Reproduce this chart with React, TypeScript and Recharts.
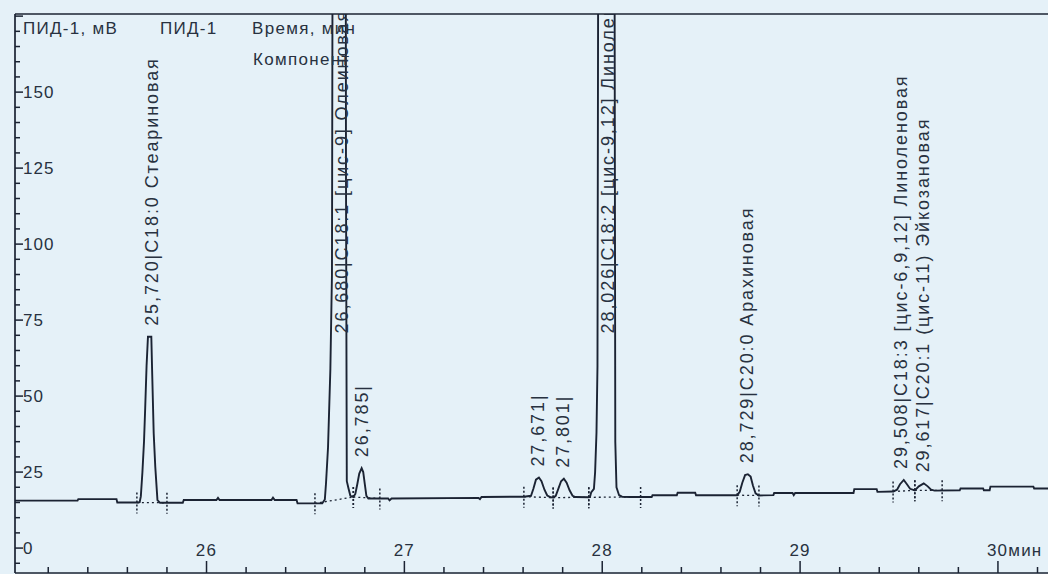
import React from 'react';
import { ComposedChart, Line, Scatter, XAxis, YAxis, ReferenceLine } from 'recharts';

// ---------- axes ----------
const X_DOMAIN: [number, number] = [25.032, 30.253];
const Y_DOMAIN: [number, number] = [-8.2, 175.7];
const X_TICKS = [25.2, 25.4, 25.6, 25.8, 26, 26.2, 26.4, 26.6, 26.8, 27, 27.2, 27.4, 27.6, 27.8, 28, 28.2, 28.4, 28.6, 28.8, 29, 29.2, 29.4, 29.6, 29.8, 30, 30.2];
const X_TICK_LABELS: Record<string, string> = { '26': '26', '27': '27', '28': '28', '29': '29', '30': '30мин' };
const Y_TICKS = [-5, 0, 5, 10, 15, 20, 25, 30, 35, 40, 45, 50, 55, 60, 65, 70, 75, 80, 85, 90, 95, 100, 105, 110, 115, 120, 125, 130, 135, 140, 145, 150, 155, 160, 165, 170, 175];
const Y_TICK_LABELS = [0, 25, 50, 75, 100, 125, 150];

// ---------- header ----------
const HEADER_SIGNAL = 'ПИД-1, мВ';
const HEADER_DETECTOR = 'ПИД-1';
const HEADER_TIME = 'Время, мин';
const HEADER_COMPONENT = 'Компонент';

// ---------- chromatogram trace: [time, mV] ----------
const TRACE_START: [number, number][] = [
  [25.032, 15.6], [25.348, 15.6], [25.352, 16.1], [25.545, 16.1], [25.549, 15.0], [25.655, 15.0],
];
const TRACE_STEARIC: [number, number][] = [
  [25.662, 15.1], [25.668, 17], [25.676, 25], [25.684, 35], [25.690, 46], [25.697, 60], [25.704, 69.5],
  [25.721, 69.5], [25.725, 58.5], [25.733, 37.8], [25.741, 26.7], [25.752, 15.8], [25.765, 14.9],
];
const TRACE_MID1: [number, number][] = [
  [25.880, 14.9], [25.885, 15.8], [26.050, 15.8], [26.058, 16.5], [26.066, 15.8],
  [26.328, 15.8], [26.336, 16.6], [26.345, 15.8], [26.455, 15.8], [26.460, 14.7],
];
const TRACE_OLEIC: [number, number][] = [
  [26.585, 14.7], [26.598, 16], [26.604, 21.4], [26.614, 33], [26.626, 59], [26.634, 90],
  [26.640, 300], [26.672, 700], [26.702, 300], [26.705, 120], [26.709, 22], [26.718, 19.5], [26.727, 17.2],
  [26.742, 16.8], [26.752, 17.8], [26.762, 21], [26.772, 24.5], [26.784, 26.3], [26.792, 25],
  [26.800, 21], [26.808, 17.2], [26.818, 16.3],
];
const TRACE_MID2: [number, number][] = [
  [26.918, 16.3], [26.925, 15.7], [26.935, 16.3], [27.375, 16.5], [27.382, 16.1], [27.390, 16.8], [27.604, 16.9],
];
const TRACE_SMALL: [number, number][] = [
  [27.640, 17.2], [27.652, 19.5], [27.665, 22.5], [27.680, 23.2], [27.693, 22], [27.708, 19.2], [27.722, 17.3],
  [27.740, 16.7], [27.752, 16.6], [27.765, 17.2], [27.778, 19.5], [27.792, 22], [27.806, 22.8], [27.820, 21.5],
  [27.835, 19], [27.850, 17.2], [27.865, 16.8], [27.932, 16.7],
];
const TRACE_LINOLEIC: [number, number][] = [
  [27.938, 16.8], [27.944, 18.3], [27.958, 19.5], [27.964, 25], [27.971, 38], [27.976, 60], [27.981, 250],
  [28.022, 700], [28.061, 250], [28.066, 35], [28.072, 20], [28.085, 17.4], [28.100, 16.9], [28.140, 16.8],
];
const TRACE_MID3: [number, number][] = [
  [28.250, 16.8], [28.254, 17.4], [28.377, 17.4], [28.381, 18.2], [28.470, 18.2], [28.474, 17.4], [28.682, 17.4],
];
const TRACE_ARACHIDIC: [number, number][] = [
  [28.695, 18.5], [28.708, 21.5], [28.722, 24], [28.736, 24.3], [28.750, 23.5], [28.762, 20.5], [28.775, 18], [28.792, 17.3],
];
const TRACE_MID4: [number, number][] = [
  [28.865, 17.4], [28.869, 18.1], [28.962, 18.1], [28.968, 17.4], [28.975, 18.1], [29.270, 18.1], [29.274, 19.4],
  [29.387, 19.4], [29.391, 18.5], [29.470, 18.6],
];
const TRACE_LATE: [number, number][] = [
  [29.490, 19.2], [29.505, 21], [29.524, 22.4], [29.540, 21], [29.556, 19.5], [29.580, 19.0], [29.600, 20.3],
  [29.625, 21.3], [29.645, 20.3], [29.662, 19.2], [29.680, 18.9],
];
const TRACE_END: [number, number][] = [
  [29.807, 19.0], [29.811, 19.6], [29.925, 19.6], [29.929, 19.0], [29.958, 19.0], [29.962, 20.2],
  [30.179, 20.2], [30.183, 19.6], [30.253, 19.6],
];

// ---------- peaks ----------
const PEAK_TIMES = [25.720, 26.680, 26.785, 27.671, 27.801, 28.026, 28.729, 29.508, 29.617];
const PEAK_HEIGHTS: (number | null)[] = [69.5, null, 26.3, 23.2, 22.8, null, 24.3, 22.4, 21.3];
const PEAK_LABELS = [
  '25,720|C18:0 Стеариновая',
  '26,680|C18:1 [цис-9] Олеиновая',
  '26,785|',
  '27,671|',
  '27,801|',
  '28,026|C18:2 [цис-9,12] Линолевая',
  '28,729|C20:0 Арахиновая',
  '29,508|C18:3 [цис-6,9,12] Линоленовая',
  '29,617|C20:1 (цис-11) Эйкозановая',
];
const OFFSCALE_LABEL_MV = 67;

// ---------- integration marks ----------
const INT_START_T = [25.648, 26.548, 26.742, 27.604, 27.752, 27.932, 28.682, 29.470, 29.580];
const INT_END_T = [25.800, 26.742, 26.876, 27.752, 27.932, 28.194, 28.792, 29.580, 29.718];
const INT_START_MV = [15.0, 14.7, 16.8, 16.9, 16.6, 16.7, 17.4, 18.6, 19.0];
const INT_END_MV = [14.9, 16.8, 16.3, 16.6, 16.7, 16.8, 17.3, 19.0, 19.0];

const INK = '#1b2333';
const TEXT = '#283140';
const FONT = '"Liberation Sans", Arial, sans-serif';

const traceData = [
  ...TRACE_START, ...TRACE_STEARIC, ...TRACE_MID1, ...TRACE_OLEIC, ...TRACE_MID2, ...TRACE_SMALL,
  ...TRACE_LINOLEIC, ...TRACE_MID3, ...TRACE_ARACHIDIC, ...TRACE_MID4, ...TRACE_LATE, ...TRACE_END,
].map(([t, v]) => ({ t, v }));

const labelData = PEAK_TIMES.map((t, i) => ({
  t,
  v: PEAK_HEIGHTS[i] ?? OFFSCALE_LABEL_MV,
  text: PEAK_LABELS[i],
}));

const XTick = (props: any) => {
  const { x, y, payload } = props;
  const v = payload.value as number;
  const major = Math.abs(v - Math.round(v)) < 1e-6;
  const label = major ? X_TICK_LABELS[String(Math.round(v))] : undefined;
  return (
    <g>
      <line x1={x} x2={x} y1={y} y2={y - (major ? 12 : 6)} stroke={INK} strokeWidth={1.5} />
      {label && (
        <text
          x={label.length > 2 ? x - 11 : x}
          y={y - 17}
          textAnchor={label.length > 2 ? 'start' : 'middle'}
          fontSize={17}
          fontFamily={FONT}
          letterSpacing={1.2}
          fill={TEXT}
        >
          {label}
        </text>
      )}
    </g>
  );
};

const YTick = (props: any) => {
  const { x, y, payload } = props;
  const v = payload.value as number;
  const major = v % 25 === 0;
  const showLabel = Y_TICK_LABELS.includes(v);
  return (
    <g>
      <line x1={x} x2={x + (major ? 8 : 5)} y1={y} y2={y} stroke={INK} strokeWidth={1.5} />
      {showLabel && (
        <text x={x + 8} y={y} dy="0.36em" textAnchor="start" fontSize={17} fontFamily={FONT} letterSpacing={1} fill={TEXT}>
          {v}
        </text>
      )}
    </g>
  );
};

const PeakLabel = (props: any) => {
  const { cx, cy, payload } = props;
  if (cx == null || cy == null) return null;
  const y0 = cy - 11;
  return (
    <text
      x={cx}
      y={y0}
      dy="0.36em"
      transform={`rotate(-90 ${cx} ${y0})`}
      textAnchor="start"
      fontSize={18}
      fontFamily={FONT}
      letterSpacing={1.9}
      fill={TEXT}
    >
      {payload.text}
    </text>
  );
};

export default function App() {
  return (
    <div style={{ position: 'absolute', left: 0, top: 0, width: 1048, height: 574, background: '#e5f1f8', overflow: 'hidden' }}>
      <ComposedChart width={1048} height={574} margin={{ top: 13, right: 0, bottom: 0, left: 14 }}>
        <XAxis
          dataKey="t"
          type="number"
          domain={X_DOMAIN}
          allowDataOverflow
          ticks={X_TICKS}
          interval={0}
          tick={<XTick />}
          tickLine={false}
          tickSize={0}
          tickMargin={0}
          height={1}
          axisLine={{ stroke: INK, strokeWidth: 1.7 }}
        />
        <XAxis
          xAxisId="top"
          orientation="top"
          type="number"
          domain={X_DOMAIN}
          allowDataOverflow
          tick={false}
          tickLine={false}
          height={1}
          axisLine={{ stroke: INK, strokeWidth: 1.7 }}
        />
        <YAxis
          type="number"
          domain={Y_DOMAIN}
          allowDataOverflow
          ticks={Y_TICKS}
          interval={0}
          tick={<YTick />}
          tickLine={false}
          tickSize={0}
          tickMargin={0}
          width={1}
          axisLine={{ stroke: INK, strokeWidth: 1.7 }}
        />
        {INT_START_T.map((t, i) => (
          <ReferenceLine
            key={`b${i}`}
            segment={[{ x: t, y: INT_START_MV[i] }, { x: INT_END_T[i], y: INT_END_MV[i] }]}
            stroke={INK}
            strokeWidth={1.3}
            strokeDasharray="2 3"
          />
        ))}
        {[...INT_START_T.map((t, i) => [t, INT_START_MV[i]]), ...INT_END_T.map((t, i) => [t, INT_END_MV[i]])].map(([t, m], i) => (
          <ReferenceLine
            key={`m${i}`}
            segment={[{ x: t, y: m + 3.3 }, { x: t, y: m - 3.6 }]}
            stroke={INK}
            strokeWidth={1.5}
            strokeDasharray="2 2"
          />
        ))}
        <Line
          data={traceData}
          dataKey="v"
          type="linear"
          stroke={INK}
          strokeWidth={1.9}
          dot={false}
          isAnimationActive={false}
        />
        <Scatter data={labelData} dataKey="v" shape={<PeakLabel />} isAnimationActive={false} />
      </ComposedChart>
      <svg width={1048} height={574} style={{ position: 'absolute', left: 0, top: 0, pointerEvents: 'none' }}>
        <g fontFamily={FONT} fontSize={17} fill={TEXT} letterSpacing={1.3}>
          <text x={23} y={34}>{HEADER_SIGNAL}</text>
          <text x={160} y={34}>{HEADER_DETECTOR}</text>
          <text x={252} y={34}>{HEADER_TIME}</text>
          <text x={253} y={65}>{HEADER_COMPONENT}</text>
        </g>
      </svg>
    </div>
  );
}
